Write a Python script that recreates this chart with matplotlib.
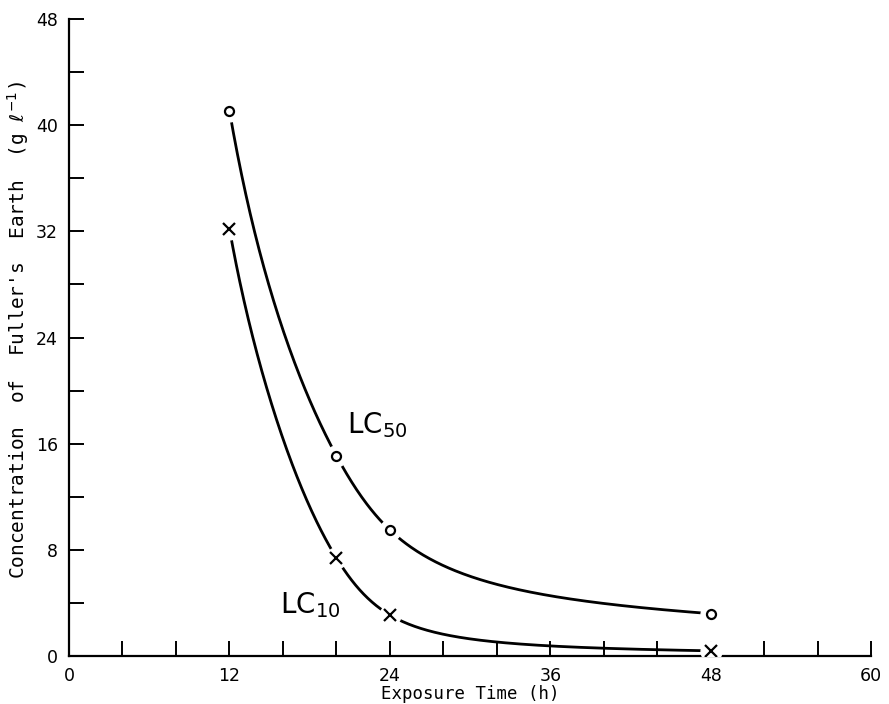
import numpy as np
from matplotlib import pyplot as plt
from matplotlib.ticker import MultipleLocator

# exposure times (h) and concentrations (g/l)
hours = [12, 20, 24, 48]
lc50 = [41.1, 15.1, 9.5, 3.2]
lc10 = [32.2, 7.4, 3.1, 0.4]


def naturalSpline( x, y, xs ):
    # natural cubic spline, only used to draw a smooth curve through the read points
    x = np.asarray( x, float )
    y = np.asarray( y, float )
    n = len( x )
    h = np.diff( x )
    A = np.zeros( ( n, n ) )
    r = np.zeros( n )
    A[ 0, 0 ] = A[ -1, -1 ] = 1
    for k in range( 1, n - 1 ):
        A[ k, k - 1 ] = h[ k - 1 ]
        A[ k, k ] = 2 * ( h[ k - 1 ] + h[ k ] )
        A[ k, k + 1 ] = h[ k ]
        r[ k ] = 6 * ( ( y[ k + 1 ] - y[ k ] ) / h[ k ] - ( y[ k ] - y[ k - 1 ] ) / h[ k - 1 ] )
    M = np.linalg.solve( A, r )
    i = np.clip( np.searchsorted( x, xs ) - 1, 0, n - 2 )
    a = x[ i + 1 ] - xs
    b = xs - x[ i ]
    hi = h[ i ]
    return ( M[ i ] * a**3 / ( 6 * hi ) + M[ i + 1 ] * b**3 / ( 6 * hi )
             + ( y[ i ] / hi - M[ i ] * hi / 6 ) * a + ( y[ i + 1 ] / hi - M[ i + 1 ] * hi / 6 ) * b )


def curve( axes, values, marker, size ):
    logX = np.log( hours )
    xs = np.exp( np.linspace( logX[ 0 ], logX[ -1 ], 400 ) )
    ys = np.exp( naturalSpline( logX, np.log( values ), np.log( xs ) ) )
    axes.plot( xs, ys, color = 'black', lw = 2.0, zorder = 2, solid_capstyle = 'butt' )
    # white halo so the line stops short of each marker
    axes.plot( hours, values, 'o', ms = 15, color = 'white', mec = 'white', zorder = 3 )
    axes.plot( hours, values, marker, ms = size, mfc = 'white', mec = 'black', mew = 1.6,
               linestyle = 'none', zorder = 4 )


figure = plt.figure( figsize = ( 8.89, 7.04 ), dpi = 100 )
axes = figure.add_axes( [ 0.0776, 0.068, 0.9024, 0.905 ] )

curve( axes, lc50, 'o', 6.5 )
curve( axes, lc10, 'x', 9 )

axes.set_xlim( 0, 60 )
axes.set_ylim( 0, 48 )
axes.xaxis.set_major_locator( MultipleLocator( 12 ) )
axes.xaxis.set_minor_locator( MultipleLocator( 4 ) )
axes.yaxis.set_major_locator( MultipleLocator( 8 ) )
axes.yaxis.set_minor_locator( MultipleLocator( 4 ) )
axes.tick_params( which = 'both', direction = 'in', length = 11, width = 1.4, labelsize = 12.5, pad = 8 )
for side in ( 'top', 'right' ):
    axes.spines[ side ].set_visible( False )
for side in ( 'left', 'bottom' ):
    axes.spines[ side ].set_linewidth( 1.6 )

axes.set_xlabel( 'Exposure Time (h)', fontsize = 12.5, family = 'DejaVu Sans Mono', labelpad = 0 )
axes.set_ylabel( r"Concentration  of  Fuller's  Earth  (g $\ell^{-1}$)", fontsize = 14,
                 family = 'DejaVu Sans Mono' )
axes.yaxis.set_label_coords( -0.047, 0.512 )

axes.text( 20.8, 16.8, r'LC$_{50}$', fontsize = 20 )
axes.text( 15.8, 3.2, r'LC$_{10}$', fontsize = 20 )

figure.savefig( 'out.png', dpi = 100 )
